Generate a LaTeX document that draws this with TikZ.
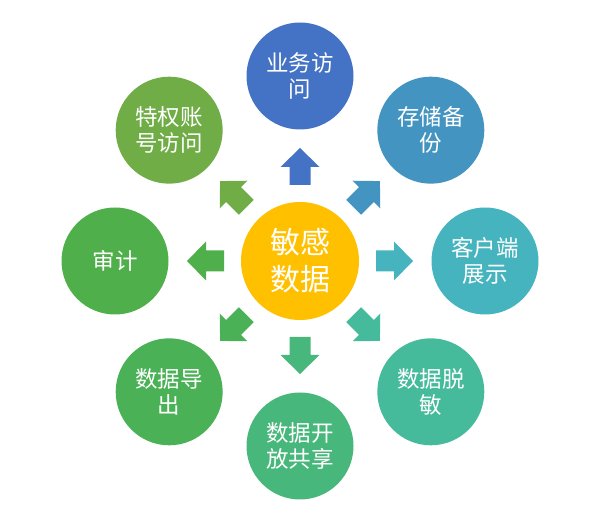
\documentclass[tikz,border=0pt]{standalone}
\usepackage{fontspec}
\usetikzlibrary{calc}
\setmainfont{Noto Sans CJK SC}
\definecolor{cA}{HTML}{4472C4}
\definecolor{cB}{HTML}{4394C0}
\definecolor{cC}{HTML}{45B4BF}
\definecolor{cD}{HTML}{45BB9C}
\definecolor{cE}{HTML}{47B77B}
\definecolor{cF}{HTML}{4BB157}
\definecolor{cG}{HTML}{4FAF4A}
\definecolor{cH}{HTML}{70AD47}
\definecolor{cCenter}{HTML}{FFC000}
\begin{document}
\begin{tikzpicture}[x=1pt,y=1pt,
  outer/.style={circle, minimum size=107pt, inner sep=0pt, text=white, align=center,
    font=\fontsize{22.5}{26}\selectfont},
  hub/.style={circle, minimum size=118pt, inner sep=0pt, fill=cCenter, text=white, align=center,
    font=\fontsize{30}{37}\selectfont}]
\useasboundingbox (0,0) rectangle (611,526);
\node[hub] (C) at (300,265) {敏感\\数据};
\node[outer, fill=cA] (n1) at ($(C)+(90:185)$) {业务访\\问};
\node[outer, fill=cB] (n2) at ($(C)+(45:185)$) {存储备\\份};
\node[outer, fill=cC] (n3) at ($(C)+(0:185)$) {客户端\\展示};
\node[outer, fill=cD] (n4) at ($(C)+(-45:185)$) {数据脱\\敏};
\node[outer, fill=cE] (n5) at ($(C)+(-90:185)$) {数据开\\放共享};
\node[outer, fill=cF] (n6) at ($(C)+(-135:185)$) {数据导\\出};
\node[outer, fill=cG] (n7) at ($(C)+(180:185)$) {审计};
\node[outer, fill=cH] (n8) at ($(C)+(135:185)$) {特权账\\号访问};
\foreach \a/\c in {90/cA,45/cB,0/cC,-45/cD,-90/cE,-135/cF,180/cG,135/cH}
  \fill[\c, shift={(C)}, rotate=\a]
    (76,-10.5) -- (94,-10.5) -- (94,-19.5) -- (113,0) -- (94,19.5) -- (94,10.5) -- (76,10.5) -- cycle;
\end{tikzpicture}
\end{document}
